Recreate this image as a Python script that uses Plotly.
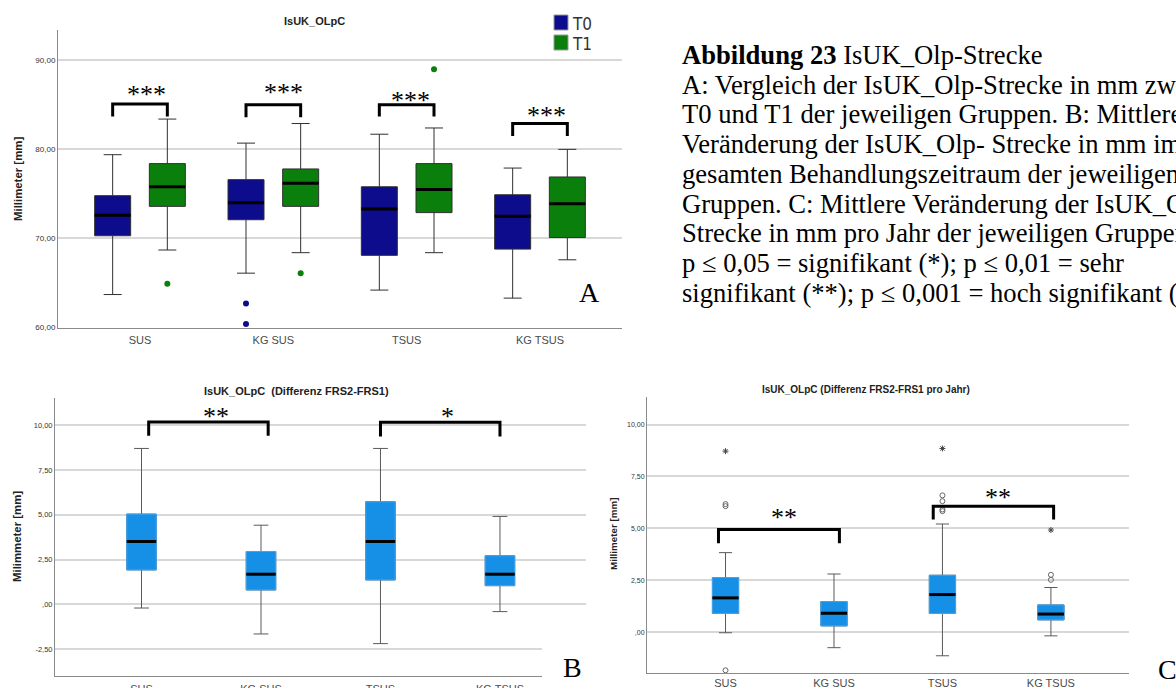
import plotly.graph_objects as go

W, H = 1176, 688

groups = ["SUS", "KG SUS", "TSUS", "KG TSUS"]

# ---- A: IsUK_OLpC at T0 / T1 (mm) ----
a_t0_low = [63.7, 66.1, 64.2, 63.3]
a_t0_q1 = [70.3, 72.1, 68.1, 68.8]
a_t0_med = [72.6, 74.0, 73.3, 72.5]
a_t0_q3 = [74.8, 76.6, 75.8, 74.9]
a_t0_high = [79.4, 80.7, 81.7, 77.9]
a_t0_out_grp = [1, 1]
a_t0_out_val = [62.7, 60.4]

a_t1_low = [68.7, 68.4, 68.4, 67.6]
a_t1_q1 = [73.6, 73.6, 72.9, 70.1]
a_t1_med = [75.8, 76.2, 75.5, 73.9]
a_t1_q3 = [78.4, 77.8, 78.4, 76.9]
a_t1_high = [83.4, 82.9, 82.4, 80.0]
a_t1_out_grp = [0, 1, 2]
a_t1_out_val = [64.9, 66.1, 89.0]

a_ticks = [60, 70, 80, 90]
a_ticktext = ["60,00", "70,00", "80,00", "90,00"]

a_sig_grp = [0, 1, 2, 3]
a_sig_top = [85.1, 85.0, 85.0, 82.9]
a_sig_leg = [83.7, 83.6, 83.7, 81.5]
a_sig_star_dx = [0.05, 0.075, 0.03, 0.045]
a_sig_star_y = [86.7, 87.0, 86.0, 84.4]
a_sig_text = ["***", "***", "***", "***"]

# ---- B: difference FRS2-FRS1 (mm) ----
b_low = [-0.21, -1.66, -2.20, -0.41]
b_q1 = [1.92, 0.80, 1.36, 1.04]
b_med = [3.51, 1.68, 3.51, 1.68]
b_q3 = [5.04, 2.95, 5.73, 2.71]
b_high = [8.71, 4.42, 8.71, 4.91]
b_out_grp = [0, 1, 1]
b_out_val = [-3.71, 8.02, 6.75]

b_ticks = [-2.5, 0, 2.5, 5, 7.5, 10]
b_ticktext = ["-2,50", ",00", "2,50", "5,00", "7,50", "10,00"]

b_sig_x0 = [0.06, 2.0]
b_sig_x1 = [1.06, 3.0]
b_sig_top = [10.19, 10.17]
b_sig_leg = [9.42, 9.38]
b_sig_star_x = [0.62, 2.56]
b_sig_star_y = [10.8, 10.75]
b_sig_text = ["**", "*"]

# ---- C: difference FRS2-FRS1 per year (mm) ----
c_low = [-0.03, -0.75, -1.14, -0.18]
c_q1 = [0.90, 0.30, 0.90, 0.59]
c_med = [1.65, 0.91, 1.81, 0.87]
c_q3 = [2.63, 1.47, 2.74, 1.31]
c_high = [3.83, 2.80, 5.21, 2.15]
c_out_grp = [0, 0, 0, 2, 2, 2, 2, 3, 3]
c_out_val = [6.17, 6.07, -1.84, 6.59, 6.31, 5.91, 5.83, 2.76, 2.52]
c_ext_grp = [0, 2, 3]
c_ext_val = [8.72, 8.85, 4.92]

c_ticks = [0, 2.5, 5, 7.5, 10]
c_ticktext = [",00", "2,50", "5,00", "7,50", "10,00"]

c_sig_x0 = [-0.065, 1.915]
c_sig_x1 = [1.05, 3.025]
c_sig_top = [4.95, 6.07]
c_sig_leg = [4.28, 5.43]
c_sig_star_x = [0.535, 2.51]
c_sig_star_y = [5.75, 6.71]
c_sig_text = ["**", "**"]

caption_lines = [
    "<b>Abbildung 23</b> IsUK_Olp-Strecke",
    "A: Vergleich der IsUK_Olp-Strecke in mm zwischen",
    "T0 und T1 der jeweiligen Gruppen. B: Mittlere",
    "Veränderung der IsUK_Olp- Strecke in mm im",
    "gesamten Behandlungszeitraum der jeweiligen",
    "Gruppen. C: Mittlere Veränderung der IsUK_Olp-",
    "Strecke in mm pro Jahr der jeweiligen Gruppen.",
    "p ≤ 0,05 = signifikant (*); p ≤ 0,01 = sehr",
    "signifikant (**); p ≤ 0,001 = hoch signifikant (***)",
]

NAVY = "#0c0c8c"
GREEN = "#0b7f0b"
BLUE = "#1690e6"
SANS = "Liberation Sans, Arial, sans-serif"
SERIF = "Liberation Serif, Times New Roman, serif"


def px(x):
    return x / W


def py(y):
    return 1 - y / H


fig = go.Figure()
pos = list(range(len(groups)))


def add_boxes(xa, ya, centers, q1, med, q3, lo, hi, width, fill, line_color, outline=None):
    fig.add_trace(go.Box(
        x=centers, q1=q1, median=med, q3=q3, lowerfence=lo, upperfence=hi,
        width=width, fillcolor=fill, line=dict(color=line_color, width=1),
        whiskerwidth=0.5, boxpoints=False, xaxis=xa, yaxis=ya,
        showlegend=False, hoverinfo="skip"))
    if outline:
        # box body outline in a lighter tone, drawn over the whisker-coloured frame
        fig.add_trace(go.Box(
            x=centers, q1=q1, median=med, q3=q3, lowerfence=q1, upperfence=q3,
            width=width, fillcolor=fill, line=dict(color=outline, width=1),
            whiskerwidth=0, boxpoints=False, xaxis=xa, yaxis=ya,
            showlegend=False, hoverinfo="skip"))
    xs, ys = [], []
    for c, m in zip(centers, med):
        xs += [c - width / 2, c + width / 2, None]
        ys += [m, m, None]
    fig.add_trace(go.Scatter(x=xs, y=ys, mode="lines", line=dict(color="black", width=3),
                             xaxis=xa, yaxis=ya, showlegend=False, hoverinfo="skip"))


def add_points(xa, ya, xs, ys, marker):
    fig.add_trace(go.Scatter(x=xs, y=ys, mode="markers", marker=marker, xaxis=xa, yaxis=ya,
                             showlegend=False, hoverinfo="skip", cliponaxis=False))


def add_brackets(xa, ya, x0s, x1s, tops, legs):
    xs, ys = [], []
    for x0, x1, t, l in zip(x0s, x1s, tops, legs):
        xs += [x0, x0, x1, x1, None]
        ys += [l, t, t, l, None]
    fig.add_trace(go.Scatter(x=xs, y=ys, mode="lines", line=dict(color="black", width=3),
                             xaxis=xa, yaxis=ya, showlegend=False, hoverinfo="skip"))


annotations = []


def add_stars(xa, ya, xs, ys, texts):
    for x, y, t in zip(xs, ys, texts):
        annotations.append(dict(x=x, y=y, xref=xa, yref=ya, text=t, showarrow=False,
                                font=dict(family=SERIF, size=26, color="black"),
                                xanchor="center", yanchor="middle", yshift=-5))


# ---- panel A ----
A_OFF, A_W = 0.205, 0.27
a_x0 = [p - A_OFF for p in pos]
a_x1 = [p + A_OFF for p in pos]
add_boxes("x", "y", a_x0, a_t0_q1, a_t0_med, a_t0_q3, a_t0_low, a_t0_high, A_W, NAVY, "#303030")
add_boxes("x", "y", a_x1, a_t1_q1, a_t1_med, a_t1_q3, a_t1_low, a_t1_high, A_W, GREEN, "#303030")
add_points("x", "y", [g - A_OFF for g in a_t0_out_grp], a_t0_out_val,
           dict(color=NAVY, size=6, line=dict(width=0)))
add_points("x", "y", [g + A_OFF for g in a_t1_out_grp], a_t1_out_val,
           dict(color=GREEN, size=6, line=dict(width=0)))
add_brackets("x", "y", [g - A_OFF for g in a_sig_grp], [g + A_OFF for g in a_sig_grp],
             a_sig_top, a_sig_leg)
add_stars("x", "y", [g + d for g, d in zip(a_sig_grp, a_sig_star_dx)], a_sig_star_y, a_sig_text)

# ---- panel B ----
B_W = 0.247
add_boxes("x2", "y2", pos, b_q1, b_med, b_q3, b_low, b_high, B_W, BLUE, "#5a5a5a", "#45a6ee")
add_points("x2", "y2", b_out_grp, b_out_val,
           dict(color="white", size=6, symbol="circle-open", line=dict(color="#555555", width=1)))
add_brackets("x2", "y2", b_sig_x0, b_sig_x1, b_sig_top, b_sig_leg)
add_stars("x2", "y2", b_sig_star_x, b_sig_star_y, b_sig_text)

# ---- panel C ----
C_W = 0.242
add_boxes("x3", "y3", pos, c_q1, c_med, c_q3, c_low, c_high, C_W, BLUE, "#5a5a5a", "#45a6ee")
add_points("x3", "y3", c_out_grp, c_out_val,
           dict(size=5, symbol="circle-open", color="#666666", line=dict(color="#666666", width=1)))
add_points("x3", "y3", c_ext_grp, c_ext_val,
           dict(size=5, symbol="asterisk-open", color="#444444", line=dict(color="#444444", width=1)))
add_brackets("x3", "y3", c_sig_x0, c_sig_x1, c_sig_top, c_sig_leg)
add_stars("x3", "y3", c_sig_star_x, c_sig_star_y, c_sig_text)

# ---- axes ----
common = dict(showline=True, linecolor="#8a8a8a", linewidth=1, ticks="", zeroline=False,
              fixedrange=True, automargin=False)
xcommon = dict(showgrid=False, tickvals=pos, ticktext=groups,
               tickfont=dict(family=SANS, size=11, color="#4a4a4a"), **common)
ycommon = dict(showgrid=True, gridcolor="#d8d8d8", gridwidth=1.5, **common)

fig.update_layout(
    width=W, height=H, autosize=False,
    margin=dict(l=0, r=0, t=0, b=0, autoexpand=False),
    paper_bgcolor="white", plot_bgcolor="white",
    showlegend=False,
    xaxis=dict(domain=[px(58), px(622)], range=[-0.615, 3.615], anchor="y",
               ticklabelstandoff=2, **xcommon),
    yaxis=dict(domain=[py(327.5), py(30)], range=[60, 93.4], anchor="x",
               tickvals=a_ticks, ticktext=a_ticktext,
               tickfont=dict(family=SANS, size=8, color="#333333"), **ycommon),
    xaxis2=dict(domain=[px(55), px(586)], range=[-0.724, 3.72], anchor="y2",
                ticklabelstandoff=3, **xcommon),
    yaxis2=dict(domain=[py(676), py(398)], range=[-4.01, 11.53], anchor="x2",
                tickvals=b_ticks, ticktext=b_ticktext,
                tickfont=dict(family=SANS, size=7.5, color="#333333"), **ycommon),
    xaxis3=dict(domain=[px(647), px(1129)], range=[-0.724, 3.72], anchor="y3",
                ticklabelstandoff=0, **xcommon),
    yaxis3=dict(domain=[py(673), py(397)], range=[-1.97, 11.33], anchor="x3",
                tickvals=c_ticks, ticktext=c_ticktext,
                tickfont=dict(family=SANS, size=7, color="#333333"), **ycommon),
)

# chart titles
for text, x, y, size in [
    ("<b>IsUK_OLpC</b>", 314, 21, 11),
    ("<b>IsUK_OLpC  (Differenz FRS2-FRS1)</b>", 296, 391, 11),
    ("<b>IsUK_OLpC (Differenz FRS2-FRS1 pro Jahr)</b>", 866, 389, 10),
]:
    annotations.append(dict(x=px(x), y=py(y), xref="paper", yref="paper", text=text,
                            showarrow=False, xanchor="center", yanchor="middle",
                            font=dict(family=SANS, size=size, color="#222222")))

# y-axis titles
for text, x, y, size in [
    ("<b>Millimeter [mm]</b>", 18, 179, 11.4),
    ("<b>Milimmeter [mm]</b>", 17, 537, 11.4),
    ("<b>Millimeter [mm]</b>", 613, 534, 9.8),
]:
    annotations.append(dict(x=px(x), y=py(y), xref="paper", yref="paper", text=text,
                            textangle=-90, showarrow=False, xanchor="center", yanchor="middle",
                            font=dict(family=SANS, size=size, color="#222222")))

# legend for panel A
shapes = []
for label, color, yc in [("T0", NAVY, 22.5), ("T1", GREEN, 42.5)]:
    shapes.append(dict(type="rect", xref="paper", yref="paper",
                       x0=px(554), x1=px(568), y0=py(yc + 7.5), y1=py(yc - 7.5),
                       fillcolor=color, line=dict(color="#9a9a9a", width=1)))
    annotations.append(dict(x=px(570), y=py(yc + 1), xref="paper", yref="paper", text=label,
                            showarrow=False, xanchor="left", yanchor="middle",
                            font=dict(family="Liberation Sans Narrow, DejaVu Sans Condensed, Arial Narrow, sans-serif",
                                      size=17, color="#333333")))

# white patch behind the panel letter B
shapes.append(dict(type="rect", xref="paper", yref="paper", layer="above",
                   x0=px(542), x1=px(604), y0=py(688), y1=py(630),
                   fillcolor="white", line=dict(width=0)))

# panel letters
for letter, x, y in [("A", 590, 292), ("B", 572, 667), ("C", 1167, 669)]:
    annotations.append(dict(x=px(x), y=py(y), xref="paper", yref="paper", text=letter,
                            showarrow=False, xanchor="center", yanchor="middle",
                            font=dict(family=SERIF, size=28, color="black")))

# figure caption
for i, line in enumerate(caption_lines):
    annotations.append(dict(x=px(680), y=py(55 + 29.7 * i), xref="paper", yref="paper",
                            text=line, showarrow=False, xanchor="left", yanchor="middle",
                            font=dict(family=SERIF, size=26.6, color="black")))

fig.update_layout(annotations=annotations, shapes=shapes)

fig.write_html("out.html")
